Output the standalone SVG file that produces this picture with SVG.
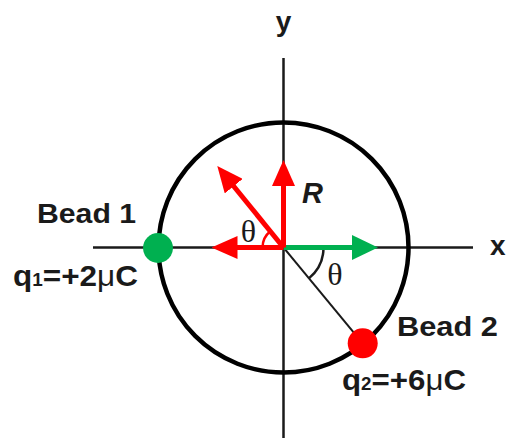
<svg xmlns="http://www.w3.org/2000/svg" width="512" height="443" viewBox="0 0 512 443">
  <style>
    .lbl { font-family: "Liberation Sans", Arial, sans-serif; font-weight: bold; fill: #1a1a1a; }
    .th { font-family: "Liberation Serif", "Times New Roman", serif; fill: #1a1a1a; font-size: 32px; }
    .axis { stroke: #1a1a1a; stroke-width: 2.5; fill: none; }
    .red { stroke: #ff0000; stroke-width: 5; fill: none; }
    .grn { stroke: #00b050; stroke-width: 5; fill: none; }
  </style>
  <defs>
    <marker id="headR" viewBox="0 0 26 23" refX="6" refY="11.5" markerWidth="26" markerHeight="23" markerUnits="userSpaceOnUse" orient="auto">
      <path d="M0,0 L26,11.5 L0,23 Z" fill="#ff0000"/>
    </marker>
    <marker id="headG" viewBox="0 0 26 25" refX="6" refY="12.5" markerWidth="26" markerHeight="25" markerUnits="userSpaceOnUse" orient="auto">
      <path d="M0,0 L26,12.5 L0,25 Z" fill="#00b050"/>
    </marker>
  </defs>

  <g id="axes">
    <line class="axis" x1="93" y1="247.5" x2="473" y2="247.5"/>
    <line class="axis" x1="283.5" y1="58" x2="283.5" y2="438"/>
    <text class="lbl" x="283.5" y="31" font-size="28" text-anchor="middle">y</text>
    <text class="lbl" x="490" y="255" font-size="28">x</text>
  </g>

  <g id="ring">
    <circle cx="283.5" cy="247.5" r="125" fill="none" stroke="#000" stroke-width="4.5"/>
  </g>

  <g id="connectors">
    <line x1="283.5" y1="247.5" x2="362.7" y2="343.3" stroke="#1a1a1a" stroke-width="2"/>
    <path d="M323.5,247.5 A40,40 0 0 1 308.9,278.4" fill="none" stroke="#1a1a1a" stroke-width="2.5"/>
    <path d="M262.5,247.5 A21,21 0 0 1 270.3,231.2" fill="none" stroke="#ff0000" stroke-width="2.5"/>
    <line class="grn" x1="283.5" y1="247.5" x2="358" y2="247.5" marker-end="url(#headG)"/>
    <line class="red" x1="283.5" y1="247.5" x2="231.5" y2="247.5" marker-end="url(#headR)"/>
    <line class="red" x1="283.5" y1="247.5" x2="283.5" y2="180" marker-end="url(#headR)"/>
    <line class="red" x1="283.5" y1="247.5" x2="229.9" y2="181.5" marker-end="url(#headR)"/>
  </g>

  <g id="labels">
    <text class="th" x="248.5" y="242" text-anchor="middle">θ</text>
    <text class="th" x="335" y="285" text-anchor="middle">θ</text>
    <text class="lbl" x="302" y="203" font-size="29" font-style="italic">R</text>
  </g>

  <g id="bead1">
    <circle cx="158" cy="248" r="15" fill="#00b050"/>
    <text class="lbl" x="37" y="223" font-size="28" textLength="99" lengthAdjust="spacingAndGlyphs">Bead 1</text>
    <text class="lbl" x="13" y="286" font-size="30" textLength="125" lengthAdjust="spacingAndGlyphs">q<tspan font-size="18">1</tspan>=+2<tspan font-weight="normal">μ</tspan>C</text>
  </g>

  <g id="bead2">
    <circle cx="362.7" cy="343.3" r="15" fill="#ff0000"/>
    <text class="lbl" x="397" y="336" font-size="28" textLength="101" lengthAdjust="spacingAndGlyphs">Bead 2</text>
    <text class="lbl" x="342" y="390" font-size="30" textLength="124" lengthAdjust="spacingAndGlyphs">q<tspan font-size="18">2</tspan>=+6<tspan font-weight="normal">μ</tspan>C</text>
  </g>
</svg>
